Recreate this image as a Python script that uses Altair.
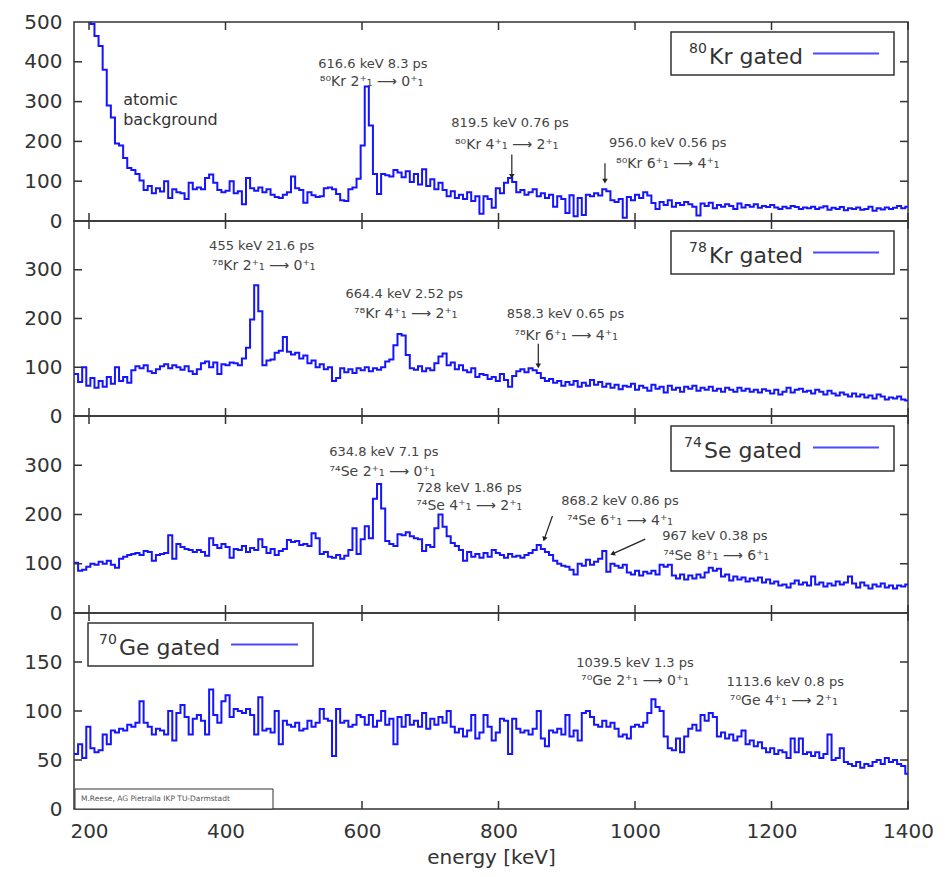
import altair as alt
import pandas as pd

# ---------------- data (6 keV bins starting at 178 keV) ----------------
E_START = 178
BIN = 6

kr80 = [720, 660, 600, 545, 495, 465, 440, 380, 290, 260,
        195, 190, 158, 133, 128, 118, 102, 78, 88, 70,
        82, 74, 100, 58, 80, 72, 70, 55, 96, 80,
        84, 80, 108, 117, 96, 78, 72, 76, 100, 70,
        75, 42, 108, 82, 76, 84, 72, 80, 66, 60,
        58, 66, 72, 112, 82, 78, 46, 72, 65, 60,
        62, 82, 84, 80, 68, 52, 50, 80, 84, 106,
        190, 338, 240, 118, 68, 118, 115, 112, 128, 122,
        110, 125, 98, 118, 92, 130, 88, 105, 80, 96,
        78, 62, 75, 58, 66, 55, 72, 50, 62, 18,
        62, 55, 33, 82, 70, 96, 108, 98, 72, 78,
        66, 72, 80, 62, 70, 58, 66, 36, 62, 55,
        20, 65, 12, 58, 15, 66, 62, 70, 64, 80,
        75, 52, 48, 55, 8, 60, 52, 66, 58, 72,
        64, 45, 30, 48, 40, 52, 36, 45, 40, 48,
        42, 36, 14, 44, 38, 46, 32, 40, 36, 42,
        38, 30, 44, 34, 40, 36, 42, 33, 38, 35,
        40, 34, 30, 36, 32, 38, 35, 30, 34, 32,
        36, 30, 34, 37, 28, 33, 30, 35, 27, 32,
        30, 34, 28, 30, 36, 26, 32, 29, 34, 30,
        33, 38, 32, 36]

kr78 = [86, 70, 100, 62, 78, 58, 72, 60, 80, 66,
        100, 72, 80, 68, 94, 102, 98, 104, 92, 88,
        96, 102, 106, 98, 104, 100, 95, 102, 92, 86,
        96, 108, 112, 100, 110, 86, 106, 104, 110, 108,
        104, 118, 140, 198, 268, 215, 104, 114, 116, 130,
        134, 162, 132, 126, 130, 118, 124, 108, 114, 100,
        106, 96, 100, 72, 78, 98, 90, 96, 88, 98,
        94, 100, 92, 98, 95, 100, 112, 116, 145, 168,
        165, 125, 98, 95, 102, 92, 98, 94, 108, 122,
        128, 104, 110, 96, 104, 94, 90, 98, 80, 86,
        84, 76, 80, 72, 86, 74, 60, 82, 92, 96,
        90, 98, 94, 88, 78, 72, 76, 68, 72, 62,
        70, 64, 72, 60, 68, 62, 74, 64, 70, 60,
        66, 58, 64, 55, 62, 60, 66, 54, 62, 58,
        52, 64, 56, 60, 48, 62, 54, 58, 50, 60,
        56, 62, 52, 58, 54, 60, 52, 56, 50, 58,
        54, 50, 58, 52, 56, 50, 54, 48, 55, 52,
        46, 54, 44, 50, 58, 48, 54, 56, 50, 52,
        46, 54, 50, 44, 52, 46, 42, 48, 44, 40,
        46, 40, 44, 38, 42, 36, 44, 40, 34, 38,
        36, 40, 34, 32]

se74 = [102, 86, 88, 94, 100, 98, 104, 100, 106, 98,
        92, 110, 114, 118, 120, 122, 118, 126, 124, 106,
        118, 120, 122, 158, 110, 140, 134, 130, 128, 124,
        128, 124, 116, 152, 138, 132, 140, 134, 112, 130,
        128, 136, 124, 132, 128, 150, 134, 122, 130, 118,
        126, 130, 148, 144, 146, 138, 140, 136, 162, 152,
        120, 124, 114, 112, 118, 110, 116, 128, 172, 120,
        150, 176, 152, 232, 262, 212, 146, 140, 136, 160,
        158, 164, 156, 152, 150, 126, 138, 134, 172, 200,
        175, 156, 142, 136, 128, 106, 124, 114, 120, 112,
        122, 114, 128, 122, 118, 112, 120, 114, 116, 112,
        118, 122, 128, 138, 130, 124, 118, 106, 100, 96,
        94, 88, 78, 100, 96, 108, 98, 104, 110, 126,
        84, 100, 96, 92, 98, 82, 78, 86, 76, 84,
        80, 86, 78, 98, 94, 98, 76, 70, 78, 68,
        76, 70, 78, 72, 82, 92, 86, 90, 74, 78,
        66, 74, 68, 72, 64, 70, 66, 72, 62, 68,
        60, 64, 56, 58, 52, 60, 66, 58, 62, 56,
        74, 58, 62, 54, 60, 56, 64, 58, 62, 74,
        60, 52, 62, 56, 50, 58, 54, 60, 52, 56,
        50, 56, 54, 58]

ge70 = [56, 66, 52, 84, 62, 58, 60, 76, 66, 80,
        78, 82, 80, 86, 84, 88, 110, 88, 84, 76,
        82, 80, 76, 100, 70, 98, 106, 94, 76, 92,
        96, 90, 76, 122, 96, 88, 110, 116, 94, 102,
        100, 98, 102, 96, 76, 114, 80, 82, 78, 100,
        66, 90, 86, 84, 88, 80, 82, 90, 84, 88,
        102, 92, 90, 54, 102, 88, 90, 84, 86, 96,
        94, 86, 96, 84, 90, 100, 86, 92, 66, 94,
        84, 96, 86, 90, 84, 98, 82, 92, 86, 94,
        88, 100, 84, 78, 82, 74, 80, 96, 72, 78,
        96, 84, 70, 78, 92, 90, 56, 92, 82, 78,
        80, 76, 82, 100, 72, 64, 80, 78, 82, 76,
        96, 74, 80, 70, 98, 100, 94, 86, 84, 90,
        84, 88, 82, 74, 76, 72, 84, 86, 84, 88,
        98, 112, 104, 100, 74, 62, 60, 72, 58, 74,
        82, 86, 80, 96, 90, 98, 94, 74, 78, 72,
        76, 70, 74, 80, 66, 70, 64, 68, 62, 58,
        62, 56, 60, 58, 52, 72, 58, 72, 56, 58,
        54, 58, 52, 56, 76, 50, 52, 62, 48, 46,
        44, 48, 42, 46, 44, 48, 50, 46, 52, 48,
        50, 46, 44, 36]

X_TICKS = [200, 400, 600, 800, 1000, 1200, 1400]

# annotations: (text, energy, counts, line kind: 1 = energy/lifetime, 2 = transition)
ann_kr80 = [("616.6 keV 8.3 ps", 616, 395, 1), ("⁸⁰Kr 2⁺₁ ⟶ 0⁺₁", 614, 350, 2),
            ("819.5 keV 0.76 ps", 817, 245, 1), ("⁸⁰Kr 4⁺₁ ⟶ 2⁺₁", 812, 192, 2),
            ("956.0 keV 0.56 ps", 1048, 195, 1), ("⁸⁰Kr 6⁺₁ ⟶ 4⁺₁", 1048, 142, 2)]
arr_kr80 = [(819.5, 167, 819.5, 112, 0), (956.0, 145, 956.0, 100, 0)]

ann_kr78 = [("455 keV 21.6 ps", 453, 349, 1), ("⁷⁸Kr 2⁺₁ ⟶ 0⁺₁", 456, 308, 2),
            ("664.4 keV 2.52 ps", 662, 251, 1), ("⁷⁸Kr 4⁺₁ ⟶ 2⁺₁", 664, 209, 2),
            ("858.3 keV 0.65 ps", 898, 209, 1), ("⁷⁸Kr 6⁺₁ ⟶ 4⁺₁", 899, 164, 2)]
arr_kr78 = [(858.3, 148, 858.3, 103, 0)]

ann_se74 = [("634.8 keV 7.1 ps", 632, 327, 1), ("⁷⁴Se 2⁺₁ ⟶ 0⁺₁", 630, 286, 2),
            ("728 keV 1.86 ps", 757, 254, 1), ("⁷⁴Se 4⁺₁ ⟶ 2⁺₁", 757, 218, 2),
            ("868.2 keV 0.86 ps", 978, 228, 1), ("⁷⁴Se 6⁺₁ ⟶ 4⁺₁", 978, 187, 2),
            ("967 keV 0.38 ps", 1117, 156, 1), ("⁷⁴Se 8⁺₁ ⟶ 6⁺₁", 1119, 116, 2)]
arr_se74 = [(879, 197, 867, 150, 19), (1015, 150, 967, 120, 66)]

ann_ge70 = [("1039.5 keV 1.3 ps", 1000, 149, 1), ("⁷⁰Ge 2⁺₁ ⟶ 0⁺₁", 1000, 131, 2),
            ("1113.6 keV 0.8 ps", 1220, 130, 1), ("⁷⁰Ge 4⁺₁ ⟶ 2⁺₁", 1218, 110, 2)]
arr_ge70 = []

W = 834
TXT = "#333333"
ANN = "#444444"
FONT = "DejaVu Sans"


def hist_df(counts):
    n = len(counts)
    e = [E_START + BIN * i for i in range(n + 1)]
    c = list(counts) + [counts[-1]]
    return pd.DataFrame({"E": e, "c": c})


def one():
    return pd.DataFrame({"k": [0]})


def panel(counts, ymax, yticks, ylabels, H, annots, arrows, legend, bottom=False, extra=None):
    xs = alt.Scale(domain=[178, 1400], nice=False, zero=False)
    ys = alt.Scale(domain=[0, ymax], nice=False, zero=False)
    if bottom:
        xax = alt.Axis(values=X_TICKS, ticks=False, domain=False, grid=False, labelFlush=False,
                       labelFontSize=20, labelPadding=12, title="energy [keV]", titleFontSize=20,
                       titleFontWeight="normal", titlePadding=6, format="d", labelOverlap=False)
    else:
        xax = None
    yax = alt.Axis(values=ylabels, ticks=False, domain=False, grid=False, labelFontSize=20,
                   labelPadding=12, minExtent=60, maxExtent=60, title=None, format="d",
                   labelOverlap=False)

    def X(f):
        return alt.X(f, scale=xs, axis=xax)

    def Y(f):
        return alt.Y(f, scale=ys, axis=yax)

    layers = []
    layers.append(alt.Chart(hist_df(counts)).mark_line(
        interpolate="step-after", color="#1414ff", strokeWidth=2, clip=True).encode(
        x=X("E:Q"), y=Y("c:Q")))

    xt = pd.DataFrame({"t": X_TICKS})
    yt = pd.DataFrame({"t": yticks})
    tk = dict(color=TXT, strokeWidth=1.5)
    layers.append(alt.Chart(xt).mark_rule(**tk).encode(
        x=X("t:Q"), y=alt.value(H), y2=alt.value(H - 8)))
    layers.append(alt.Chart(xt).mark_rule(**tk).encode(
        x=X("t:Q"), y=alt.value(0), y2=alt.value(8)))
    layers.append(alt.Chart(yt).mark_rule(**tk).encode(
        y=Y("t:Q"), x=alt.value(0), x2=alt.value(8)))
    layers.append(alt.Chart(yt).mark_rule(**tk).encode(
        y=Y("t:Q"), x=alt.value(W), x2=alt.value(W - 8)))

    adf = pd.DataFrame(annots, columns=["txt", "E", "c", "kind"])
    for kind, fs in ((1, 13), (2, 14)):
        layers.append(alt.Chart(adf[adf["kind"] == kind]).mark_text(
            fontSize=fs, color=ANN, font=FONT, baseline="middle").encode(
            x=X("E:Q"), y=Y("c:Q"), text="txt:N"))

    if arrows:
        rdf = pd.DataFrame(arrows, columns=["x1", "y1", "x2", "y2", "ang"])
        layers.append(alt.Chart(rdf).mark_rule(color="#222222", strokeWidth=1.2).encode(
            x=X("x1:Q"), x2="x2:Q", y=Y("y1:Q"), y2="y2:Q"))
        layers.append(alt.Chart(rdf).mark_point(shape="triangle-down", filled=True, color="#222222",
                                                size=30, opacity=1).encode(
            x=X("x2:Q"), y=Y("y2:Q"), angle=alt.Angle("ang:Q", scale=None)))

    if extra:
        layers.extend(extra(X, Y))

    # legend box
    (bx1, bx2, by1, by2, sup, supx, main, mainx, lx1, lx2) = legend
    layers.append(alt.Chart(one()).mark_rect(fill="white", stroke=TXT, strokeWidth=1.5).encode(
        x=alt.value(bx1), x2=alt.value(bx2), y=alt.value(by1), y2=alt.value(by2)))
    layers.append(alt.Chart(one()).mark_text(align="left", baseline="alphabetic", fontSize=14,
                                             color=TXT, font=FONT).encode(
        x=alt.value(supx), y=alt.value(31), text=alt.value(sup)))
    layers.append(alt.Chart(one()).mark_text(align="left", baseline="alphabetic", fontSize=22,
                                             color=TXT, font=FONT).encode(
        x=alt.value(mainx), y=alt.value(42), text=alt.value(main)))
    layers.append(alt.Chart(one()).mark_rule(color="#4a4aff", strokeWidth=2).encode(
        x=alt.value(lx1), x2=alt.value(lx2), y=alt.value(31.5)))

    return alt.layer(*layers).properties(width=W, height=H)


def atomic(X, Y):
    d = pd.DataFrame([("atomic", 250, 303), ("background", 250, 254)], columns=["txt", "E", "c"])
    return [alt.Chart(d).mark_text(align="left", baseline="middle", fontSize=16, color=TXT,
                                   font=FONT).encode(x=X("E:Q"), y=Y("c:Q"), text="txt:N")]


def credit(X, Y):
    return [
        alt.Chart(one()).mark_rect(fill="white", stroke=TXT, strokeWidth=1).encode(
            x=alt.value(1), x2=alt.value(199), y=alt.value(176), y2=alt.value(196)),
        alt.Chart(one()).mark_text(align="left", baseline="middle", fontSize=7.5, color="#555555",
                                   font=FONT).encode(
            x=alt.value(7), y=alt.value(186), text=alt.value("M.Reese, AG Pietralla IKP TU-Darmstadt")),
    ]


p1 = panel(kr80, 500, [100, 200, 300, 400], [0, 100, 200, 300, 400, 500], 199, ann_kr80, arr_kr80,
           (597, 820, 10, 53, "80", 615, "Kr gated", 635, 739, 805), extra=atomic)
p2 = panel(kr78, 400, [100, 200, 300], [0, 100, 200, 300], 195, ann_kr78, arr_kr78,
           (597, 820, 10, 53, "78", 615, "Kr gated", 635, 739, 805))
p3 = panel(se74, 400, [100, 200, 300], [0, 100, 200, 300], 197, ann_se74, arr_se74,
           (597, 820, 10, 55, "74", 610, "Se gated", 630, 739, 805))
p4 = panel(ge70, 200, [50, 100, 150], [0, 50, 100, 150], 196, ann_ge70, arr_ge70,
           (14, 239, 10, 53, "70", 25, "Ge gated", 45, 157, 224), bottom=True, extra=credit)

chart = alt.vconcat(p1, p2, p3, p4, spacing=0, bounds="flush").properties(
    padding={"left": 5, "top": 3, "right": 5, "bottom": 5}
).configure_view(stroke=TXT, strokeWidth=1.5).configure_axis(
    labelFont=FONT, titleFont=FONT, labelColor=TXT, titleColor=TXT
).configure_text(font=FONT)

chart.save("out.html", embed_options={"renderer": "svg", "actions": False})
